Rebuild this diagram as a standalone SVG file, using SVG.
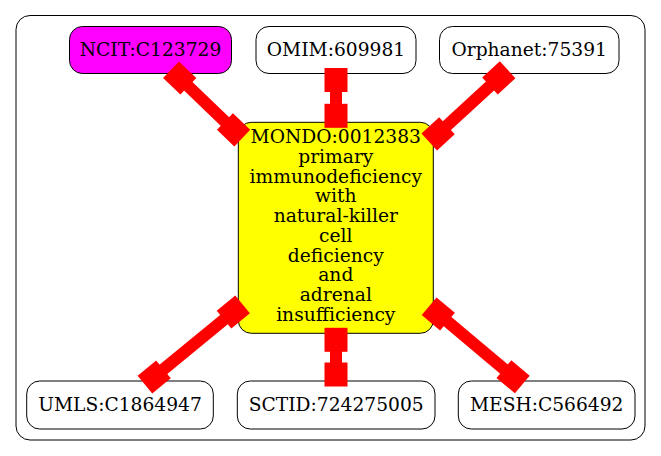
<svg xmlns="http://www.w3.org/2000/svg" xmlns:xlink="http://www.w3.org/1999/xlink" width="661" height="456" viewBox="0 0 661 456">
<style>
.node{stroke:#000;stroke-width:1}
.t{font-family:"DejaVu Serif","Liberation Serif",serif;font-size:18.67px;text-anchor:middle;fill:#000}
.stem{stroke:#f00;stroke-width:12;fill:none}
.bx{fill:#f00}
</style>
<defs>
<rect id="bx" class="bx" x="-12" y="-11.5" width="24" height="23"/>
</defs>
<rect x="16" y="15.5" width="629" height="424.5" rx="14" fill="#fff" stroke="#000" stroke-width="1"/>
<g id="ncit"><rect class="node" x="69.5" y="26.5" width="162" height="47" rx="13" fill="#f0f"/><text class="t" x="150.5" y="55.7">NCIT:C123729</text></g>
<g id="omim"><rect class="node" x="256" y="26.5" width="160" height="47" rx="13" fill="#fff"/><text class="t" x="336" y="55.7">OMIM:609981</text></g>
<g id="orphanet"><rect class="node" x="439.5" y="26.5" width="179.5" height="47" rx="13" fill="#fff"/><text class="t" x="529.2" y="55.7">Orphanet:75391</text></g>
<g id="mondo"><rect class="node" x="238.3" y="122.3" width="195" height="211" rx="13" fill="#ff0"/>
<text class="t" x="335.8" y="143.3">MONDO:0012383</text>
<text class="t" x="335.8" y="163">primary</text>
<text class="t" x="335.8" y="182.7">immunodeficiency</text>
<text class="t" x="335.8" y="202.4">with</text>
<text class="t" x="335.8" y="222.1">natural-killer</text>
<text class="t" x="335.8" y="241.8">cell</text>
<text class="t" x="335.8" y="261.5">deficiency</text>
<text class="t" x="335.8" y="281.2">and</text>
<text class="t" x="335.8" y="300.9">adrenal</text>
<text class="t" x="335.8" y="320.6">insufficiency</text>
</g>
<g id="umls"><rect class="node" x="26.7" y="381" width="186.6" height="48" rx="13" fill="#fff"/><text class="t" x="120" y="410.7">UMLS:C1864947</text></g>
<g id="sctid"><rect class="node" x="237.3" y="381" width="197.7" height="48" rx="13" fill="#fff"/><text class="t" x="336.2" y="410.7">SCTID:724275005</text></g>
<g id="mesh"><rect class="node" x="458.3" y="381" width="176.7" height="48" rx="13" fill="#fff"/><text class="t" x="546.7" y="410.7">MESH:C566492</text></g>
<g id="connectors">
<line class="stem" x1="175" y1="73.5" x2="238.3" y2="134.3"/>
<use xlink:href="#bx" transform="translate(179.7,78) rotate(43.8)"/>
<use xlink:href="#bx" transform="translate(233.6,129.8) rotate(43.8)"/>
<line class="stem" x1="336" y1="73.5" x2="336" y2="122.3"/>
<use xlink:href="#bx" transform="translate(336,80) rotate(90)"/>
<use xlink:href="#bx" transform="translate(336,115.8) rotate(90)"/>
<line class="stem" x1="503.6" y1="73.5" x2="433.3" y2="138.2"/>
<use xlink:href="#bx" transform="translate(498.8,77.9) rotate(137.4)"/>
<use xlink:href="#bx" transform="translate(438.1,133.8) rotate(137.4)"/>
<line class="stem" x1="149.2" y1="381" x2="238.3" y2="307.9"/>
<use xlink:href="#bx" transform="translate(154.2,376.9) rotate(-39.4)"/>
<use xlink:href="#bx" transform="translate(233.3,312) rotate(-39.4)"/>
<line class="stem" x1="336" y1="381" x2="336" y2="333.3"/>
<use xlink:href="#bx" transform="translate(336,374.5) rotate(90)"/>
<use xlink:href="#bx" transform="translate(336,339.8) rotate(90)"/>
<line class="stem" x1="518.1" y1="381" x2="433.3" y2="309.7"/>
<use xlink:href="#bx" transform="translate(513.1,376.8) rotate(-140)"/>
<use xlink:href="#bx" transform="translate(438.3,313.9) rotate(-140)"/>
</g>
</svg>
